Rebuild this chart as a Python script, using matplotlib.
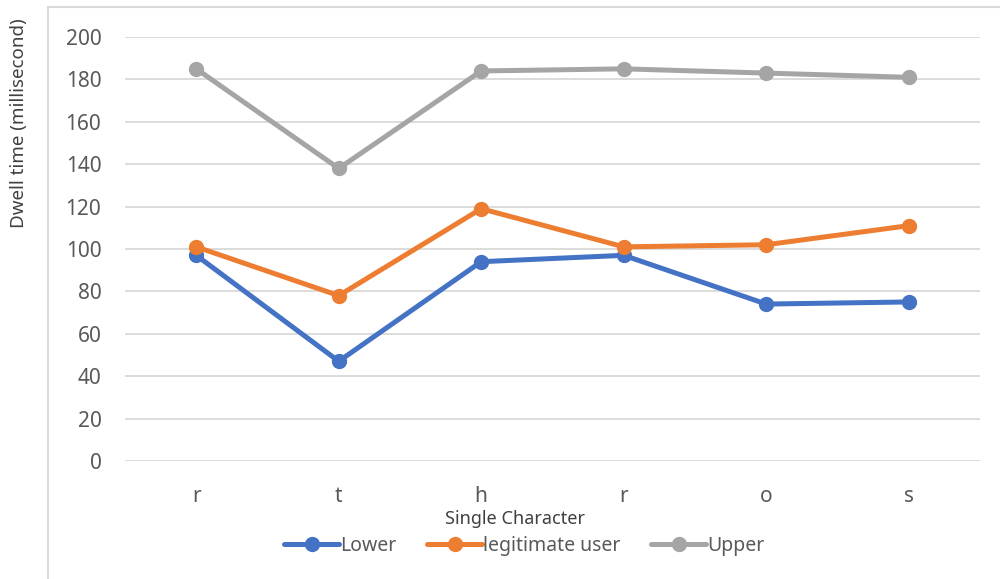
import matplotlib.pyplot as plt
from matplotlib.patches import Rectangle

plt.rcParams['font.family'] = ['Noto Sans', 'DejaVu Sans']

chars = ['r', 't', 'h', 'r', 'o', 's']
lower = [97, 47, 94, 97, 74, 75]
legit = [101, 78, 119, 101, 102, 111]
upper = [185, 138, 184, 185, 183, 181]

series = [
    ('Lower', lower, '#4472C4'),
    ('legitimate user', legit, '#ED7D31'),
    ('Upper', upper, '#A5A5A5'),
]

fig = plt.figure(figsize=(10, 5.79), dpi=100)
ax = fig.add_axes([0.125, 0.204, 0.855, 0.732])

x = list(range(len(chars)))
for name, vals, col in series:
    ax.plot(x, vals, color=col, lw=3.6, marker='o', ms=10,
            solid_capstyle='round', label=name, zorder=3)

ax.set_xlim(-0.5, len(chars) - 0.5)
ax.set_ylim(0, 200)
ax.set_yticks(range(0, 201, 20))
ax.set_xticks(x)
ax.set_xticklabels(chars)
ax.grid(axis='y', color='#D9D9D9', lw=1.3)
ax.set_axisbelow(True)
for s in ax.spines.values():
    s.set_visible(False)
ax.tick_params(length=0, labelsize=15, colors='#595959')
ax.tick_params(axis='y', pad=17)
ax.tick_params(axis='x', pad=18)

ax.set_ylabel('Dwell time (millisecond)', fontsize=13.5, color='#404040')
ax.yaxis.set_label_coords(-0.113, 0.797)
ax.set_xlabel('Single Character', fontsize=13, color='#404040')
ax.xaxis.set_label_coords(0.456, -0.115)

ax.legend(loc='upper center', bbox_to_anchor=(0.467, -0.135), ncol=3, frameon=False,
          fontsize=14, labelcolor='#595959', handlelength=2.8, handletextpad=0.05,
          columnspacing=1.6)

# outer chart border
fig.patches.append(Rectangle((0.048, -0.1), 1.1, 1.088, transform=fig.transFigure,
                             fill=False, edgecolor='#D9D9D9', lw=1.5))

fig.savefig('out.png', dpi=100)
